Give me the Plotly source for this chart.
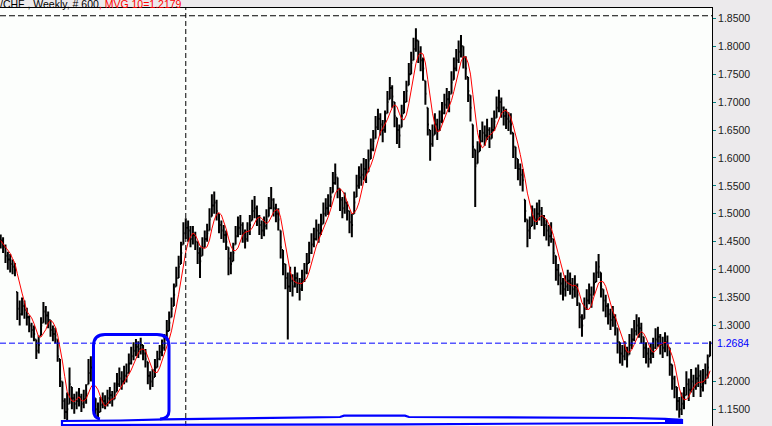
import plotly.graph_objects as go
import pandas as pd

# ---- data (one bar ~ two weeks of the weekly chart) ----
closes = [
    1.452, 1.441, 1.425, 1.418, 1.410, 1.405, 1.400, 1.330, 1.320, 1.335,
    1.328, 1.315, 1.300, 1.292, 1.285, 1.255, 1.265, 1.300, 1.325, 1.318,
    1.310, 1.292, 1.285, 1.282, 1.245, 1.205, 1.165, 1.145, 1.150, 1.195,
    1.170, 1.160, 1.165, 1.172, 1.160, 1.168, 1.178, 1.215, 1.225, 1.190,
    1.150, 1.145, 1.158, 1.165, 1.160, 1.170, 1.175, 1.168, 1.180, 1.195,
    1.205, 1.200, 1.210, 1.215, 1.232, 1.245, 1.255, 1.262, 1.258, 1.265,
    1.250, 1.240, 1.210, 1.200, 1.205, 1.225, 1.240, 1.252, 1.260, 1.268,
    1.290, 1.305, 1.330, 1.355, 1.385, 1.405, 1.430, 1.465, 1.475, 1.470,
    1.455, 1.462, 1.450, 1.430, 1.415, 1.440, 1.455, 1.465, 1.490, 1.515,
    1.520, 1.505, 1.480, 1.470, 1.462, 1.450, 1.420, 1.410, 1.430, 1.460,
    1.475, 1.480, 1.465, 1.455, 1.468, 1.480, 1.505, 1.510, 1.495, 1.480,
    1.470, 1.478, 1.490, 1.510, 1.525, 1.510, 1.500, 1.490, 1.440, 1.410,
    1.385, 1.370, 1.380, 1.370, 1.385, 1.375, 1.365, 1.380, 1.395, 1.410,
    1.430, 1.445, 1.455, 1.470, 1.465, 1.480, 1.500, 1.510, 1.515, 1.530,
    1.555, 1.570, 1.545, 1.525, 1.510, 1.520, 1.505, 1.485, 1.480, 1.520,
    1.550, 1.565, 1.570, 1.580, 1.575, 1.595, 1.615, 1.630, 1.655, 1.670,
    1.660, 1.650, 1.665, 1.700, 1.725, 1.710, 1.675, 1.650, 1.640, 1.675,
    1.700, 1.720, 1.750, 1.770, 1.795, 1.810, 1.790, 1.775, 1.760, 1.715,
    1.660, 1.625, 1.640, 1.660, 1.650, 1.665, 1.680, 1.695, 1.705, 1.700,
    1.735, 1.760, 1.775, 1.790, 1.800, 1.780, 1.760, 1.720, 1.690, 1.620,
    1.585, 1.610, 1.630, 1.645, 1.640, 1.650, 1.635, 1.650, 1.665, 1.690,
    1.700, 1.690, 1.675, 1.670, 1.665, 1.660, 1.620, 1.600, 1.580, 1.570,
    1.560, 1.505, 1.470, 1.475, 1.495, 1.490, 1.500, 1.505, 1.495, 1.480,
    1.470, 1.460, 1.465, 1.430, 1.400, 1.390, 1.375, 1.365, 1.370, 1.380,
    1.375, 1.365, 1.370, 1.355, 1.315, 1.300, 1.330, 1.345, 1.355, 1.350,
    1.375, 1.395, 1.405, 1.370, 1.345, 1.335, 1.320, 1.310, 1.315, 1.300,
    1.270, 1.250, 1.245, 1.255, 1.245, 1.265, 1.275, 1.290, 1.300, 1.295,
    1.285, 1.260, 1.250, 1.240, 1.250, 1.260, 1.275, 1.280, 1.265, 1.260,
    1.270, 1.265, 1.230, 1.205, 1.190, 1.165, 1.150, 1.160, 1.170, 1.195,
    1.185, 1.200, 1.190, 1.205, 1.210, 1.190, 1.200, 1.212, 1.225, 1.2684,
]
highs = [
    1.463, 1.458, 1.445, 1.432, 1.428, 1.418, 1.412, 1.360, 1.345, 1.350,
    1.345, 1.332, 1.318, 1.305, 1.300, 1.275, 1.282, 1.315, 1.342, 1.335,
    1.325, 1.310, 1.300, 1.296, 1.275, 1.240, 1.200, 1.170, 1.180, 1.225,
    1.190, 1.178, 1.182, 1.188, 1.178, 1.185, 1.195, 1.240, 1.245, 1.215,
    1.170, 1.162, 1.172, 1.180, 1.175, 1.185, 1.190, 1.183, 1.198, 1.215,
    1.225, 1.218, 1.228, 1.232, 1.250, 1.262, 1.270, 1.276, 1.272, 1.278,
    1.265, 1.258, 1.235, 1.218, 1.222, 1.240, 1.255, 1.265, 1.275, 1.285,
    1.310, 1.325, 1.350, 1.375, 1.405, 1.425, 1.450, 1.485, 1.492, 1.488,
    1.478, 1.478, 1.468, 1.450, 1.440, 1.458, 1.470, 1.482, 1.510, 1.535,
    1.540, 1.525, 1.500, 1.488, 1.480, 1.470, 1.440, 1.432, 1.448, 1.478,
    1.495, 1.498, 1.485, 1.472, 1.485, 1.498, 1.525, 1.532, 1.515, 1.498,
    1.488, 1.495, 1.508, 1.530, 1.548, 1.528, 1.518, 1.510, 1.470, 1.435,
    1.410, 1.395, 1.405, 1.392, 1.405, 1.395, 1.385, 1.400, 1.412, 1.430,
    1.450, 1.465, 1.475, 1.490, 1.482, 1.500, 1.520, 1.528, 1.535, 1.548,
    1.575, 1.590, 1.565, 1.545, 1.530, 1.538, 1.522, 1.505, 1.500, 1.540,
    1.570, 1.585, 1.590, 1.600, 1.598, 1.615, 1.635, 1.650, 1.675, 1.688,
    1.680, 1.668, 1.685, 1.720, 1.745, 1.730, 1.700, 1.672, 1.660, 1.695,
    1.720, 1.738, 1.770, 1.790, 1.815, 1.832, 1.810, 1.800, 1.780, 1.738,
    1.690, 1.650, 1.660, 1.680, 1.670, 1.685, 1.700, 1.715, 1.725, 1.720,
    1.755, 1.780, 1.795, 1.810, 1.820, 1.800, 1.782, 1.745, 1.712, 1.660,
    1.615, 1.630, 1.650, 1.665, 1.658, 1.670, 1.655, 1.672, 1.685, 1.710,
    1.722, 1.708, 1.692, 1.688, 1.682, 1.680, 1.645, 1.620, 1.598, 1.590,
    1.580, 1.525, 1.490, 1.495, 1.515, 1.510, 1.520, 1.525, 1.512, 1.498,
    1.490, 1.480, 1.485, 1.455, 1.425, 1.410, 1.395, 1.385, 1.390, 1.400,
    1.395, 1.385, 1.390, 1.375, 1.340, 1.320, 1.350, 1.365, 1.375, 1.370,
    1.395, 1.415, 1.428, 1.395, 1.365, 1.355, 1.340, 1.330, 1.335, 1.320,
    1.295, 1.270, 1.265, 1.272, 1.262, 1.285, 1.295, 1.310, 1.320, 1.315,
    1.305, 1.280, 1.270, 1.260, 1.268, 1.278, 1.295, 1.298, 1.285, 1.280,
    1.288, 1.282, 1.260, 1.230, 1.210, 1.190, 1.172, 1.180, 1.190, 1.218,
    1.205, 1.222, 1.212, 1.225, 1.230, 1.220, 1.222, 1.232, 1.248, 1.272,
]
lows = [
    1.438, 1.430, 1.412, 1.400, 1.395, 1.392, 1.388, 1.310, 1.300, 1.318,
    1.312, 1.300, 1.288, 1.278, 1.272, 1.240, 1.250, 1.282, 1.305, 1.302,
    1.295, 1.280, 1.272, 1.268, 1.235, 1.190, 1.150, 1.132, 1.130, 1.160,
    1.150, 1.142, 1.150, 1.155, 1.145, 1.152, 1.160, 1.195, 1.200, 1.170,
    1.135, 1.132, 1.145, 1.152, 1.150, 1.155, 1.160, 1.155, 1.168, 1.182,
    1.190, 1.185, 1.195, 1.198, 1.215, 1.230, 1.238, 1.245, 1.242, 1.248,
    1.238, 1.225, 1.195, 1.185, 1.190, 1.208, 1.225, 1.238, 1.245, 1.255,
    1.275, 1.290, 1.315, 1.335, 1.370, 1.385, 1.410, 1.445, 1.455, 1.450,
    1.440, 1.445, 1.435, 1.410, 1.385, 1.425, 1.440, 1.450, 1.470, 1.495,
    1.500, 1.488, 1.465, 1.455, 1.448, 1.435, 1.390, 1.392, 1.415, 1.445,
    1.458, 1.462, 1.448, 1.438, 1.450, 1.462, 1.488, 1.492, 1.478, 1.462,
    1.455, 1.460, 1.472, 1.495, 1.508, 1.495, 1.485, 1.470, 1.420, 1.390,
    1.365, 1.275, 1.360, 1.352, 1.368, 1.358, 1.345, 1.362, 1.378, 1.392,
    1.412, 1.428, 1.440, 1.452, 1.448, 1.462, 1.482, 1.495, 1.498, 1.512,
    1.538, 1.552, 1.528, 1.505, 1.492, 1.500, 1.488, 1.465, 1.458, 1.500,
    1.530, 1.545, 1.550, 1.560, 1.555, 1.575, 1.598, 1.612, 1.635, 1.650,
    1.640, 1.628, 1.645, 1.680, 1.705, 1.690, 1.655, 1.625, 1.618, 1.655,
    1.680, 1.700, 1.730, 1.750, 1.775, 1.790, 1.770, 1.755, 1.738, 1.695,
    1.640, 1.595, 1.620, 1.642, 1.632, 1.648, 1.662, 1.678, 1.688, 1.682,
    1.715, 1.740, 1.755, 1.770, 1.780, 1.760, 1.740, 1.700, 1.665, 1.600,
    1.512, 1.590, 1.612, 1.628, 1.622, 1.632, 1.618, 1.635, 1.648, 1.672,
    1.682, 1.672, 1.658, 1.652, 1.648, 1.642, 1.600, 1.580, 1.560, 1.550,
    1.540, 1.485, 1.440, 1.455, 1.478, 1.472, 1.480, 1.488, 1.478, 1.460,
    1.452, 1.442, 1.448, 1.410, 1.380, 1.372, 1.355, 1.345, 1.352, 1.362,
    1.355, 1.348, 1.350, 1.335, 1.295, 1.280, 1.312, 1.328, 1.338, 1.332,
    1.355, 1.378, 1.385, 1.350, 1.325, 1.315, 1.302, 1.292, 1.298, 1.282,
    1.250, 1.232, 1.228, 1.238, 1.225, 1.248, 1.258, 1.272, 1.282, 1.278,
    1.268, 1.242, 1.232, 1.225, 1.232, 1.242, 1.258, 1.262, 1.248, 1.242,
    1.252, 1.245, 1.210, 1.185, 1.170, 1.148, 1.135, 1.140, 1.150, 1.175,
    1.165, 1.180, 1.172, 1.185, 1.190, 1.172, 1.182, 1.195, 1.205, 1.245,
]
# 1.2500 is hidden on the reference axis behind the 1.2684 price label
tick_values = [1.15, 1.20, 1.30, 1.35, 1.40, 1.45, 1.50,
               1.55, 1.60, 1.65, 1.70, 1.75, 1.80, 1.85]
title_main = "/CHF , Weekly, # 600"
title_ma = ", MVG 10=1.2179"
ma_window = 5          # 10 weeks on these two-week bars
level_line = 1.8545    # black dashed horizontal level
marker_bar = 78        # bar with the vertical dashed marker

# ---- derived series ----
n = len(closes)
xs = list(range(n))
opens = [min(max(closes[i - 1] if i else closes[0], lows[i]), highs[i]) for i in range(n)]
ma = pd.Series(closes).rolling(ma_window, min_periods=1).mean()
last_close = closes[-1]

W, H = 772, 426
PL, PR, PT, PB = 0, 712, 8, 426      # plot area in pixels


def fx(px):
    return (px - PL) / (PR - PL)


def fy(py):
    return (PB - py) / (PB - PT)


def path(points, close=False):
    s = ""
    for k, p in enumerate(points):
        if p[0] == "Q":
            s += f" Q {fx(p[1]):.5f},{fy(p[2]):.5f} {fx(p[3]):.5f},{fy(p[4]):.5f}"
        else:
            s += (" M " if k == 0 else " L ") + f"{fx(p[0]):.5f},{fy(p[1]):.5f}"
    return s + (" Z" if close else "")


fig = go.Figure()
fig.add_trace(go.Ohlc(
    x=xs, open=opens, high=highs, low=lows, close=closes,
    increasing=dict(line=dict(color="#000000", width=2)),
    decreasing=dict(line=dict(color="#000000", width=2)),
    tickwidth=0.5, showlegend=False, hoverinfo="skip",
))
fig.add_trace(go.Scatter(
    x=xs, y=ma, mode="lines", line=dict(color="#FF0000", width=1),
    showlegend=False, hoverinfo="skip",
))

shapes = [
    dict(type="line", xref="paper", yref="y", x0=0, x1=1, y0=level_line, y1=level_line,
         line=dict(color="#000000", width=1, dash="6px,3px")),
    dict(type="line", xref="x", yref="paper", x0=marker_bar, x1=marker_bar, y0=0, y1=1,
         line=dict(color="#000000", width=1, dash="5px,3px")),
    dict(type="line", xref="paper", yref="y", x0=0, x1=1, y0=last_close, y1=last_close,
         line=dict(color="#0000FF", width=1, dash="6px,3px")),
    # hand drawn rounded box
    dict(type="path", xref="paper", yref="paper", line=dict(color="#0000FF", width=3),
         path=path([(100, 419), ("Q", 93.5, 418, 93.5, 410), (93.5, 346),
                    ("Q", 93.5, 334.5, 105, 334.5), (157, 334.5),
                    ("Q", 169, 334.5, 169, 346), (169, 411),
                    ("Q", 169, 418.5, 160, 419)])),
    # hand drawn long bottom loop
    dict(type="path", xref="paper", yref="paper", line=dict(color="#0000FF", width=2.2),
         path=path([(62, 421), (120, 420.5), (165, 419.3), (340, 417), (344, 415.6),
                    (405, 415.6), (409, 417), (630, 418), (665, 418.8), (682, 420),
                    (682, 423), (665, 423), (400, 424.3), (62, 425)], close=True)),
    dict(type="line", xref="paper", yref="paper", x0=fx(665), x1=fx(682), y0=fy(420.8), y1=fy(420.8),
         line=dict(color="#0000FF", width=4)),
]

fig.update_layout(
    width=W, height=H,
    margin=dict(l=PL, r=W - PR, t=PT, b=H - PB),
    paper_bgcolor="#ECEAEC", plot_bgcolor="#FCFEFC",
    font=dict(family="Liberation Sans, Arial, sans-serif", size=10.5, color="#202020"),
    showlegend=False,
    shapes=shapes,
    xaxis=dict(range=[-0.3, 299.8], rangeslider=dict(visible=False), showgrid=False,
               zeroline=False, showticklabels=False, ticks="", side="top",
               showline=True, linecolor="#000000", linewidth=1, fixedrange=True),
    yaxis=dict(side="right", range=[1.12013, 1.8684], tickvals=tick_values,
               ticktext=[f"{v:.4f}" for v in tick_values], ticks="outside", ticklen=3,
               tickcolor="#008080", tickwidth=1, showline=True, linecolor="#000000",
               linewidth=1, showgrid=False, zeroline=False, fixedrange=True),
)

fig.add_annotation(
    xref="paper", yref="paper", x=0, y=1, xanchor="left", yanchor="bottom",
    xshift=-2, yshift=-4, showarrow=False,
    text=f"{title_main}<span style='color:#FF0000'>{title_ma}</span>",
    font=dict(size=10.5, color="#000000"),
)
fig.add_annotation(
    xref="paper", yref="y", x=1, y=last_close, xanchor="left", yanchor="middle",
    xshift=3, showarrow=False, text=f"{last_close:.4f}",
    font=dict(size=10.5, color="#0000FF"), bgcolor="#ECEAEC",
)

fig.write_html("out.html", post_script="document.body.style.margin='0';",
               config={"displayModeBar": False})
